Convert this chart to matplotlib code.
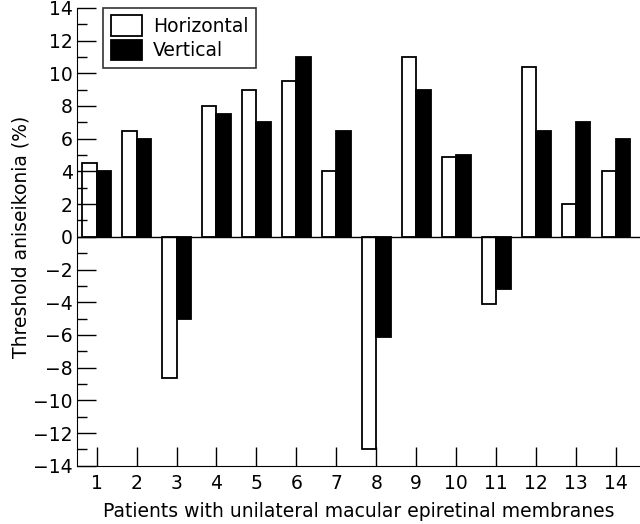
import numpy as np
import matplotlib.pyplot as plt

patients = np.arange(1, 15)
horizontal = [4.5, 6.5, -8.6, 8.0, 9.0, 9.5, 4.0, -13.0, 11.0, 4.9, -4.1, 10.4, 2.0, 4.0]
vertical = [4.0, 6.0, -5.0, 7.5, 7.0, 11.0, 6.5, -6.1, 9.0, 5.0, -3.2, 6.5, 7.0, 6.0]

plt.rcParams['font.family'] = ['DejaVu Sans']
plt.rcParams['font.size'] = 13

fig = plt.figure(figsize=(6.4, 5.24), dpi=100)
ax = fig.add_axes([0.121, 0.111, 0.879, 0.874])

w = 0.36
ax.bar(patients - w / 2, horizontal, w, color='white', edgecolor='black', linewidth=1.3, label='Horizontal')
ax.bar(patients + w / 2, vertical, w, color='black', edgecolor='black', linewidth=1.3, label='Vertical')
ax.axhline(0, color='black', linewidth=1)

ax.set_xlim(0.52, 14.6)
ax.set_ylim(-14, 14)
ax.set_xticks(patients)
ax.set_yticks(np.arange(-14, 15, 2))
ax.set_yticks(np.arange(-13, 14, 2), minor=True)
ax.tick_params(axis='both', direction='in', length=14, width=1, labelsize=13.5)
ax.tick_params(axis='y', which='minor', direction='in', length=7, width=1)
ax.tick_params(axis='x', pad=6)

for s in ['top', 'right']:
    ax.spines[s].set_visible(False)

ax.set_xlabel('Patients with unilateral macular epiretinal membranes', fontsize=13.5, labelpad=6)
ax.set_ylabel('Threshold aniseikonia (%)', fontsize=13.5, labelpad=2)

leg = ax.legend(loc='upper left', bbox_to_anchor=(0.046, 1.0), borderaxespad=0, fontsize=13.5,
                frameon=True, fancybox=False, edgecolor='black', handlelength=1.65, handleheight=1.3,
                borderpad=0.4, labelspacing=0.2, handletextpad=0.6)
leg.get_frame().set_linewidth(1.2)

fig.savefig('out.png', dpi=100)
